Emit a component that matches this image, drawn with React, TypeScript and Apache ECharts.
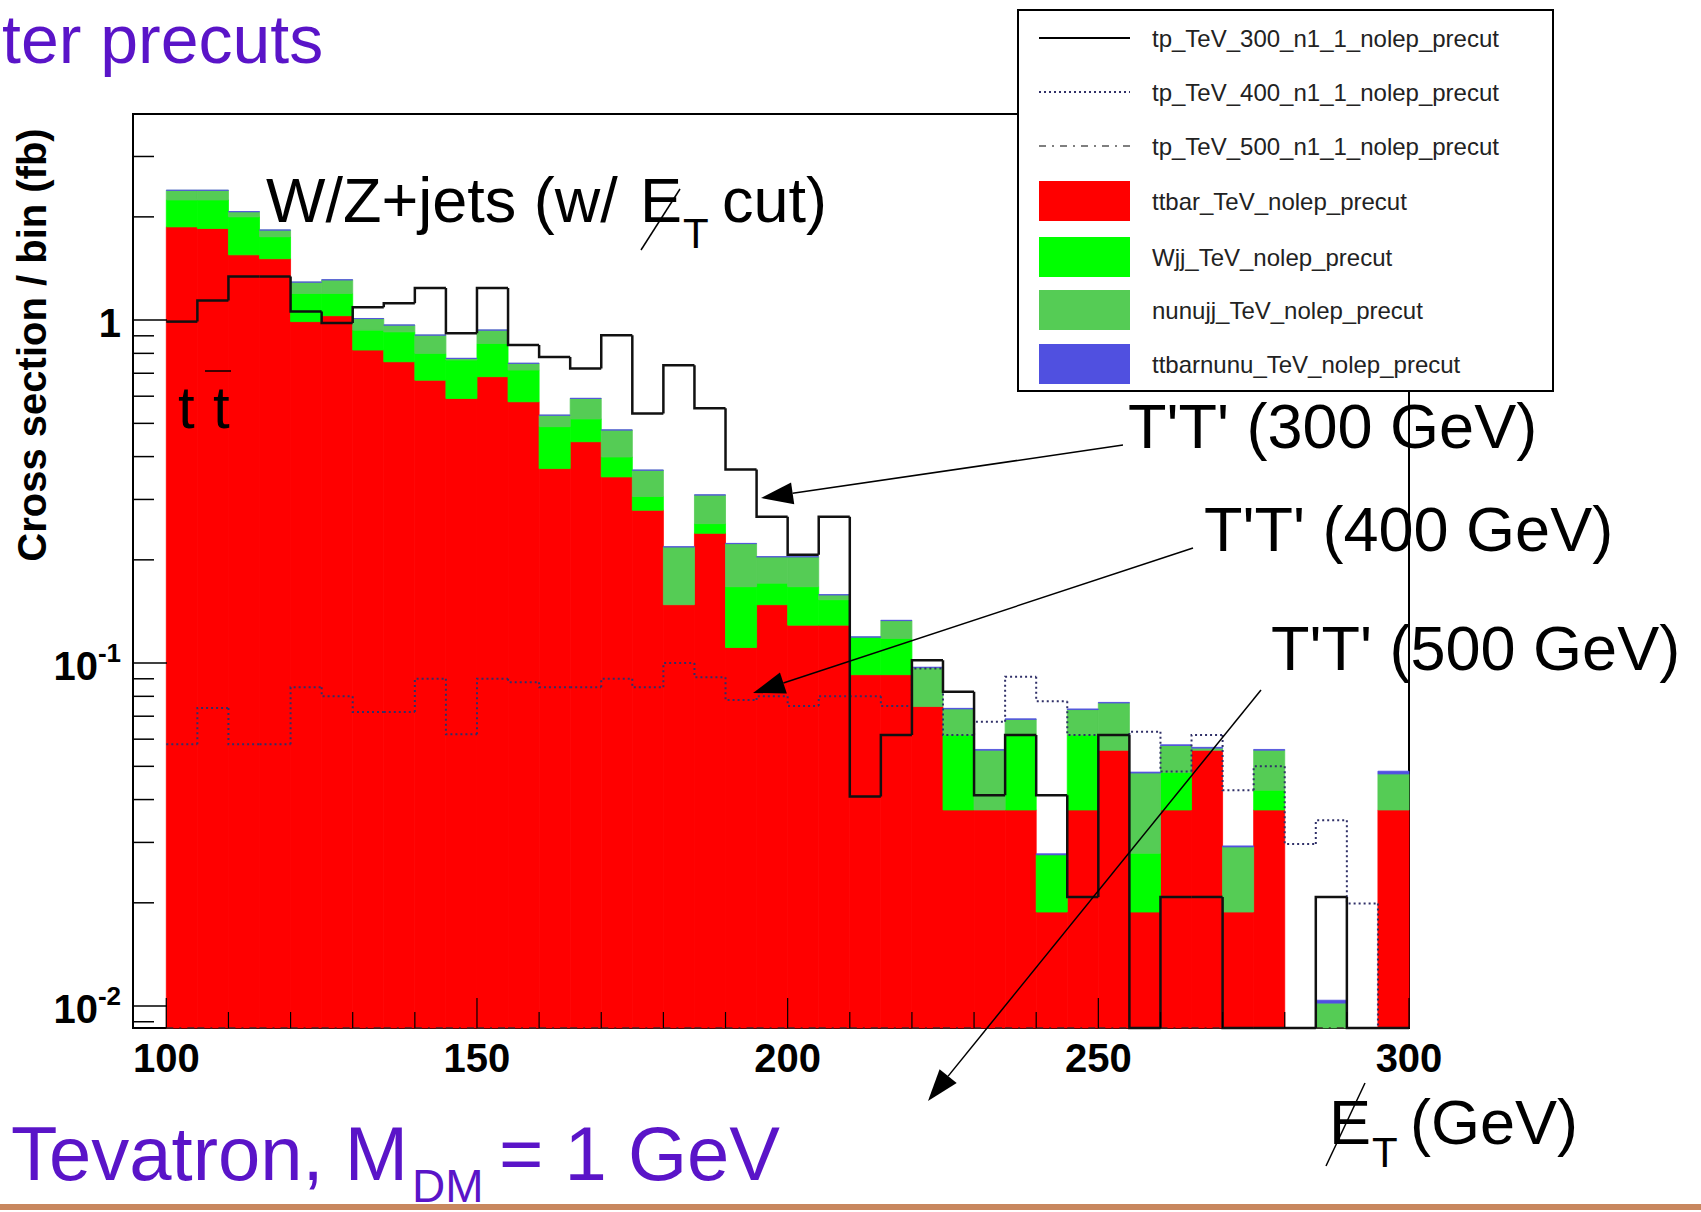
import React, { useEffect, useRef } from "react";
import * as echarts from "echarts";

// ---------- data (cross section per 5 GeV bin, fb) ----------
const BIN_EDGES = [
  100, 105, 110, 115, 120, 125, 130, 135, 140, 145, 150, 155, 160, 165, 170, 175, 180, 185, 190, 195,
  200, 205, 210, 215, 220, 225, 230, 235, 240, 245, 250, 255, 260, 265, 270, 275, 280, 285, 290, 295, 300,
];

const TTBAR = [
  1.87, 1.85, 1.55, 1.51, 0.99, 1.03, 0.818, 0.756, 0.668, 0.591, 0.684, 0.578, 0.369, 0.442, 0.349, 0.279,
  0.148, 0.239, 0.111, 0.148, 0.129, 0.129, 0.0925, 0.0925, 0.0747, 0.0373, 0.0373, 0.0373, 0.0188, 0.0373,
  0.0557, 0.0188, 0.0373, 0.0557, 0.0188, 0.0373, 0, 0, 0, 0.0373,
];
const WJJ = [
  0.37, 0.39, 0.45, 0.24, 0.206, 0.166, 0.117, 0.168, 0.132, 0.174, 0.171, 0.137, 0.12, 0.073, 0.05, 0.027,
  0, 0.016, 0.056, 0.023, 0.038, 0.024, 0.0265, 0.0255, 0, 0.0244, 0, 0.0244, 0.0088, 0.0244,
  0, 0.0091, 0.0107, 0, 0, 0.0053, 0, 0, 0, 0,
];
const NUNUJJ = [
  0.15, 0.15, 0.07, 0.08, 0.094, 0.114, 0.075, 0.043, 0.104, 0.008, 0.08, 0.033, 0.039, 0.076, 0.079, 0.059,
  0.07, 0.054, 0.056, 0.033, 0.037, 0.005, 0, 0.015, 0.0223, 0.0118, 0.0184, 0.0068, 0, 0.0115,
  0.0208, 0.0199, 0.0095, 0.0008, 0.0103, 0.0131, 0, 0.0102, 0, 0.0102,
];
const TTBARNUNU = [
  0.002, 0.002, 0.002, 0.0015, 0.0015, 0.0012, 0.001, 0.001, 0.001, 0.0008, 0.0008, 0.0007, 0.0006, 0.0006,
  0.0005, 0.0005, 0.0004, 0.0004, 0.0004, 0.0003, 0.0003, 0.0003, 0.0003, 0.0003, 0.0003, 0.0003, 0.0003,
  0.0003, 0.0002, 0.0003, 0.0003, 0.0003, 0.0003, 0.0003, 0.0002, 0.0003, 0, 0.0002, 0, 0.0009,
];
const TP300 = [
  0.99, 1.14, 1.34, 1.34, 1.06, 0.98, 1.09, 1.12, 1.24, 0.915, 1.24, 0.846, 0.78, 0.723, 0.904, 0.534,
  0.739, 0.553, 0.367, 0.267, 0.207, 0.267, 0.0408, 0.0617, 0.102, 0.0825, 0.0412, 0.0617, 0.0412, 0.0208,
  0.0617, 0, 0.0208, 0.0208, 0, 0, 0, 0.0208, 0, 0,
];
const TP400 = [
  0.058, 0.074, 0.058, 0.058, 0.085, 0.08, 0.072, 0.072, 0.09, 0.062, 0.09, 0.088, 0.085, 0.085, 0.09, 0.085,
  0.1, 0.091, 0.078, 0.08, 0.075, 0.08, 0.08, 0.075, 0.0965, 0.0617, 0.0674, 0.0912, 0.0774, 0.0617,
  0.0617, 0.0631, 0.0483, 0.0617, 0.0426, 0.05, 0.0297, 0.0348, 0.0199, 0,
];
const TP500 = [
  0.0062, 0.0058, 0.0065, 0.0061, 0.0057, 0.0063, 0.0066, 0.0059, 0.0064, 0.0062, 0.0067, 0.0061, 0.0063,
  0.0066, 0.0058, 0.0064, 0.0065, 0.006, 0.0062, 0.0057, 0.0059, 0.0055, 0.0053, 0.005, 0.0048, 0.0045,
  0.0043, 0.004, 0.0038, 0.0036, 0.0033, 0.003, 0.0028, 0.0026, 0.0024, 0.0022, 0.002, 0.0018, 0.0016, 0.0015,
];

const NAME_TP300 = "tp_TeV_300_n1_1_nolep_precut";
const NAME_TP400 = "tp_TeV_400_n1_1_nolep_precut";
const NAME_TP500 = "tp_TeV_500_n1_1_nolep_precut";
const NAME_TTBAR = "ttbar_TeV_nolep_precut";
const NAME_WJJ = "Wjj_TeV_nolep_precut";
const NAME_NUNUJJ = "nunujj_TeV_nolep_precut";
const NAME_TTBARNUNU = "ttbarnunu_TeV_nolep_precut";

// axis ticks / labels
const X_LABEL_VALUES = [100, 150, 200, 250, 300];
const X_MINOR_TICKS = [110, 120, 130, 140, 160, 170, 180, 190, 210, 220, 230, 240, 260, 270, 280, 290];
const Y_MAJOR_TICKS = [0.01, 0.1, 1];
const Y_MINOR_TICKS = [
  0.009, 0.02, 0.03, 0.04, 0.05, 0.06, 0.07, 0.08, 0.09, 0.2, 0.3, 0.4, 0.5, 0.6, 0.7, 0.8, 0.9, 2, 3,
];
const Y_LABEL_BASE = ["10", "10", "1"];
const Y_LABEL_EXP = ["-2", "-1", ""];

// axis ranges
const X_MIN = 94.64;
const X_MAX = 300;
const Y_MIN = 0.00863;
const Y_MAX = 3.99;

const FONT = "Liberation Sans";
const PURPLE = "#5a14c8";

const COL_RED = "#ff0000";
const COL_WJJ = "#00ff00";
const COL_NUNU = "#55cc55";
const COL_BLUE = "#5050e0";
const COL_TP400 = "#303068";

const clampY = (v: number) => Math.min(Y_MAX, Math.max(Y_MIN, v));
const safe = (v: number) => Math.max(v, 1e-6);

function cumulative(...arrs: number[][]) {
  return arrs[0].map((_, i) => arrs.reduce((s, a) => s + a[i], 0));
}

function stackSeries(name: string, color: string, base: number[], top: number[]) {
  const data = base.map((b, i) => [BIN_EDGES[i], BIN_EDGES[i + 1], safe(b), safe(top[i])]);
  return {
    type: "custom",
    name,
    silent: true,
    z: 2,
    coordinateSystem: "cartesian2d",
    encode: { x: [0, 1], y: [2, 3] },
    data,
    renderItem: (_p: any, api: any) => {
      const lo = api.value(0);
      const hi = api.value(1);
      const b = clampY(api.value(2));
      const t = clampY(api.value(3));
      if (!(t > b)) return { type: "group", children: [] };
      const p0 = api.coord([lo, t]);
      const p1 = api.coord([hi, b]);
      return {
        type: "rect",
        shape: { x: p0[0], y: p0[1], width: p1[0] - p0[0], height: p1[1] - p0[1] },
        style: { fill: color, stroke: color, lineWidth: 0.8 },
      };
    },
  };
}

function outlineSeries(name: string, values: number[], stroke: string, lineWidth: number, lineDash: any) {
  // first bin starts at its own level (no vertical riser at the left edge)
  const data = values.map((v, i) => [BIN_EDGES[i], BIN_EDGES[i + 1], safe(v), safe(i === 0 ? v : values[i - 1])]);
  return {
    type: "custom",
    name,
    silent: true,
    z: 3,
    coordinateSystem: "cartesian2d",
    encode: { x: [0, 1], y: [2, 3] },
    data,
    renderItem: (_p: any, api: any) => {
      const lo = api.value(0);
      const hi = api.value(1);
      const v = clampY(api.value(2));
      const pv = clampY(api.value(3));
      const a = api.coord([lo, pv]);
      const b = api.coord([lo, v]);
      const c = api.coord([hi, v]);
      return {
        type: "polyline",
        shape: { points: [a, b, c] },
        style: { stroke, lineWidth, lineDash, fill: "none" },
      };
    },
  };
}

function xTickSeries(values: number[], len: number) {
  return {
    type: "custom",
    silent: true,
    z: 4,
    coordinateSystem: "cartesian2d",
    encode: { x: 0, y: 1 },
    data: values.map((v) => [v, Y_MIN]),
    renderItem: (_p: any, api: any) => {
      const p = api.coord([api.value(0), Y_MIN]);
      return {
        type: "line",
        shape: { x1: p[0], y1: p[1], x2: p[0], y2: p[1] - len },
        style: { stroke: "#000", lineWidth: 1.2 },
      };
    },
  };
}

function yTickSeries(values: number[], len: number) {
  return {
    type: "custom",
    silent: true,
    z: 4,
    coordinateSystem: "cartesian2d",
    encode: { x: 0, y: 1 },
    data: values.map((v) => [X_MIN, v]),
    renderItem: (_p: any, api: any) => {
      const p = api.coord([X_MIN, api.value(1)]);
      return {
        type: "line",
        shape: { x1: p[0], y1: p[1], x2: p[0] + len, y2: p[1] },
        style: { stroke: "#000", lineWidth: 1.5 },
      };
    },
  };
}

function yLabelSeries() {
  return {
    type: "custom",
    silent: true,
    z: 4,
    coordinateSystem: "cartesian2d",
    encode: { x: 0, y: 1 },
    data: Y_MAJOR_TICKS.map((v) => [X_MIN, v]),
    renderItem: (params: any, api: any) => {
      const i = params.dataIndex;
      const p = api.coord([X_MIN, api.value(1)]);
      const right = p[0] - 12;
      const exp = Y_LABEL_EXP[i];
      const children: any[] = [];
      if (exp) {
        children.push({
          type: "text",
          x: right,
          y: p[1] - 10,
          style: {
            text: exp, fill: "#000", fontSize: 26, fontWeight: "bold", fontFamily: FONT,
            align: "right", verticalAlign: "middle",
          },
        });
      }
      children.push({
        type: "text",
        x: exp ? right - 23 : right,
        y: p[1] + 3,
        style: {
          text: Y_LABEL_BASE[i], fill: "#000", fontSize: 40, fontWeight: "bold", fontFamily: FONT,
          align: "right", verticalAlign: "middle",
        },
      });
      return { type: "group", children };
    },
  };
}

// ---------- annotation helpers ----------
function txt(text: string, x: number, y: number, fontSize: number, opts: any = {}) {
  return {
    type: "text",
    x,
    y,
    z: 100,
    rotation: opts.rotation || 0,
    style: {
      text,
      fill: opts.fill || "#000",
      fontSize,
      fontFamily: FONT,
      fontWeight: opts.weight || "normal",
      align: opts.align || "left",
      verticalAlign: "middle",
    },
  };
}

function seg(x1: number, y1: number, x2: number, y2: number, stroke = "#000", lineWidth = 1.5, lineDash: any = null) {
  return { type: "line", z: 100, shape: { x1, y1, x2, y2 }, style: { stroke, lineWidth, lineDash } };
}

function arrow(x1: number, y1: number, x2: number, y2: number) {
  const dx = x2 - x1;
  const dy = y2 - y1;
  const L = Math.hypot(dx, dy);
  const ux = dx / L;
  const uy = dy / L;
  const headLen = 32;
  const headW = 11;
  const bx = x2 - ux * headLen;
  const by = y2 - uy * headLen;
  const px = -uy * headW;
  const py = ux * headW;
  return [
    seg(x1, y1, bx, by, "#000", 1.5),
    {
      type: "polygon",
      z: 100,
      shape: { points: [[x2, y2], [bx + px, by + py], [bx - px, by - py]] },
      style: { fill: "#000" },
    },
  ];
}

function legendElements() {
  const rows = [38, 92, 146, 201, 257, 310, 364];
  const sx0 = 1039;
  const sx1 = 1130;
  const tx = 1152;
  const els: any[] = [
    {
      type: "rect",
      z: 100,
      shape: { x: 1018, y: 10, width: 535, height: 381 },
      style: { fill: "#fff", stroke: "#000", lineWidth: 2 },
    },
  ];
  const lines: [string, string, number, any][] = [
    [NAME_TP300, "#000", 2, null],
    [NAME_TP400, COL_TP400, 2, [2, 3]],
    [NAME_TP500, "#555", 1.5, [7, 6, 2, 6]],
  ];
  lines.forEach(([name, col, w, dash], i) => {
    els.push(seg(sx0, rows[i], sx1, rows[i], col, w, dash));
    els.push(txt(name, tx, rows[i], 24, { fill: "#222" }));
  });
  const boxes: [string, string][] = [
    [NAME_TTBAR, COL_RED],
    [NAME_WJJ, COL_WJJ],
    [NAME_NUNUJJ, COL_NUNU],
    [NAME_TTBARNUNU, COL_BLUE],
  ];
  boxes.forEach(([name, col], j) => {
    const r = rows[3 + j];
    els.push({
      type: "rect",
      z: 100,
      shape: { x: sx0, y: r - 20, width: sx1 - sx0, height: 40 },
      style: { fill: col },
    });
    els.push(txt(name, tx, r, 24, { fill: "#222" }));
  });
  return els;
}

function buildOption() {
  const c1 = cumulative(TTBAR);
  const c2 = cumulative(TTBAR, WJJ);
  const c3 = cumulative(TTBAR, WJJ, NUNUJJ);
  const c4 = cumulative(TTBAR, WJJ, NUNUJJ, TTBARNUNU);
  const zeros = TTBAR.map(() => 0);

  const graphicEls: any[] = [
    // bottom rule of the slide
    { type: "rect", z: 90, shape: { x: 0, y: 1204, width: 1701, height: 6 }, style: { fill: "#c8875e" } },
    // titles in purple
    txt("ter precuts", 2, 39, 68, { fill: PURPLE }),
    txt("Tevatron, M", 11, 1153, 76, { fill: PURPLE }),
    txt("DM", 412, 1186, 46, { fill: PURPLE }),
    txt("= 1 GeV", 499, 1153, 76, { fill: PURPLE }),
    // y axis title
    txt("Cross section / bin (fb)", 32, 345, 40, { weight: "bold", align: "center", rotation: Math.PI / 2 }),
    // W/Z+jets annotation
    txt("W/Z+jets (w/", 266, 200, 63),
    txt("E", 640, 200, 63),
    txt("T", 683, 233, 42),
    txt("cut)", 722, 200, 63),
    seg(641, 250, 680, 189, "#000", 1.5),
    // t tbar
    txt("t", 178, 407, 60),
    txt("t", 213, 407, 60),
    seg(205, 371, 231, 371, "#000", 1.5),
    // T'T' labels
    txt("T'T' (300 GeV)", 1128, 426, 63),
    txt("T'T' (400 GeV)", 1204, 529, 63),
    txt("T'T' (500 GeV)", 1271, 648, 63),
    ...arrow(1123, 445, 761, 498),
    ...arrow(1193, 548, 753, 693),
    ...arrow(1261, 690, 928, 1101),
    // x axis title
    txt("E", 1329, 1122, 63),
    txt("T", 1372, 1152, 42),
    txt("(GeV)", 1410, 1122, 63),
    seg(1326, 1166, 1365, 1083, "#000", 1.5),
    ...legendElements(),
  ];

  return {
    animation: false,
    backgroundColor: "#fff",
    grid: {
      left: 133,
      right: 292,
      top: 114,
      bottom: 184,
      show: true,
      borderColor: "#000",
      borderWidth: 2,
      backgroundColor: "transparent",
      containLabel: false,
      outerBoundsMode: "none",
    },
    xAxis: {
      type: "value",
      min: X_MIN,
      max: X_MAX,
      axisLine: { show: false },
      axisTick: { show: false },
      splitLine: { show: false },
      axisLabel: {
        customValues: X_LABEL_VALUES,
        fontSize: 40,
        fontWeight: "bold",
        fontFamily: FONT,
        color: "#000",
        margin: 10,
      },
    },
    yAxis: {
      type: "log",
      logBase: 10,
      min: Y_MIN,
      max: Y_MAX,
      axisLine: { show: false },
      axisTick: { show: false },
      axisLabel: { show: false },
      splitLine: { show: false },
    },
    series: [
      stackSeries(NAME_TTBAR, COL_RED, zeros, c1),
      stackSeries(NAME_WJJ, COL_WJJ, c1, c2),
      stackSeries(NAME_NUNUJJ, COL_NUNU, c2, c3),
      stackSeries(NAME_TTBARNUNU, COL_BLUE, c3, c4),
      outlineSeries(NAME_TP500, TP500, "#3a2a2a", 1.5, [7, 6, 2, 6]),
      outlineSeries(NAME_TP400, TP400, COL_TP400, 2, [2, 3]),
      outlineSeries(NAME_TP300, TP300, "#111", 2.5, null),
      xTickSeries(X_MINOR_TICKS, 16),
      xTickSeries(X_LABEL_VALUES, 30),
      yTickSeries(Y_MINOR_TICKS, 21),
      yTickSeries(Y_MAJOR_TICKS, 34),
      yLabelSeries(),
    ],
    graphic: { elements: graphicEls },
  };
}

export default function App() {
  const ref = useRef<HTMLDivElement>(null);
  useEffect(() => {
    if (!ref.current) return;
    const chart = echarts.init(ref.current, null, { renderer: "svg" });
    chart.setOption(buildOption() as any);
    return () => chart.dispose();
  }, []);
  return (
    <div
      ref={ref}
      style={{ position: "absolute", left: 0, top: 0, width: 1701, height: 1212, background: "#fff" }}
    />
  );
}
